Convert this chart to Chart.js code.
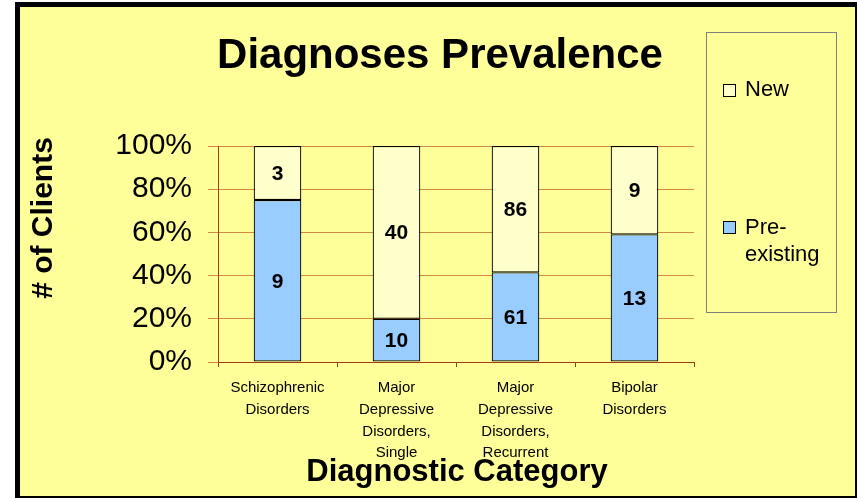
<!DOCTYPE html>
<html>
<head>
<meta charset="utf-8">
<script src="https://cdn.jsdelivr.net/npm/chart.js@4"></script>
<style>
  html, body { margin: 0; padding: 0; background: #fff; }
  canvas { display: block; }
</style>
</head>
<body>
<canvas id="chart" width="857" height="498"></canvas>
<script>
// data
const categories = [
  ['Schizophrenic', 'Disorders'],
  ['Major', 'Depressive', 'Disorders,', 'Single'],
  ['Major', 'Depressive', 'Disorders,', 'Recurrent'],
  ['Bipolar', 'Disorders']
];
const preExisting = [9, 10, 61, 13];
const newClients = [3, 40, 86, 9];
const yTicks = ['0%', '20%', '40%', '60%', '80%', '100%'];
const seriesNames = ['Pre-existing', 'New'];

const FONT = 'Arial, "Liberation Sans", sans-serif';
const BG = '#FFFF99';
const BLUE = '#99CCFF';
const PALE = '#FFFFCC';
const GRID = '#D08A44';
const AXIS = '#A03C14';

// 100% stacked: turn counts into shares
const totals = preExisting.map((v, i) => v + newClients[i]);
const prePct = preExisting.map((v, i) => v / totals[i] * 100);
const newPct = newClients.map((v, i) => v / totals[i] * 100);
const counts = [preExisting, newClients];

Chart.defaults.font.family = FONT;

const framePlugin = {
  id: 'frame',
  beforeDraw(chart) {
    const ctx = chart.ctx;
    ctx.save();
    ctx.fillStyle = '#fff';
    ctx.fillRect(0, 0, chart.width, chart.height);
    ctx.fillStyle = '#000';
    ctx.fillRect(15, 2, chart.width - 15, chart.height - 2);
    ctx.fillStyle = BG;
    ctx.fillRect(20, 7, 835, 489);
    ctx.restore();
  }
};

const labelPlugin = {
  id: 'counts',
  afterDatasetsDraw(chart) {
    const ctx = chart.ctx;
    ctx.save();
    ctx.font = 'bold 21px ' + FONT;
    ctx.fillStyle = '#000';
    ctx.textAlign = 'center';
    ctx.textBaseline = 'middle';
    chart.data.datasets.forEach((ds, di) => {
      chart.getDatasetMeta(di).data.forEach((bar, i) => {
        ctx.fillText(String(counts[di][i]), bar.x, (bar.y + bar.base) / 2 + 1);
      });
    });
    ctx.restore();
  }
};

const textPlugin = {
  id: 'texts',
  afterDraw(chart) {
    const ctx = chart.ctx;
    ctx.save();
    ctx.fillStyle = '#000';
    ctx.textAlign = 'center';

    // main title
    ctx.font = 'bold 42px ' + FONT;
    ctx.textBaseline = 'alphabetic';
    ctx.fillText('Diagnoses Prevalence', 440, 68);

    // x title
    ctx.font = 'bold 31px ' + FONT;
    ctx.fillText('Diagnostic Category', 457, 481);

    // y title
    ctx.save();
    ctx.translate(44, 218);
    ctx.rotate(-Math.PI / 2);
    ctx.font = 'bold 30px ' + FONT;
    ctx.textBaseline = 'middle';
    ctx.fillText('# of Clients', 0, 0);
    ctx.restore();

    // legend box
    ctx.strokeStyle = '#808080';
    ctx.lineWidth = 1;
    ctx.strokeRect(706.5, 32.5, 130, 280);
    ctx.strokeStyle = '#000';
    ctx.fillStyle = PALE;
    ctx.fillRect(723, 84, 13, 13);
    ctx.strokeRect(723.5, 84.5, 12, 12);
    ctx.fillStyle = BLUE;
    ctx.fillRect(723, 221, 13, 13);
    ctx.strokeRect(723.5, 221.5, 12, 12);

    ctx.fillStyle = '#000';
    ctx.font = '22px ' + FONT;
    ctx.textAlign = 'left';
    ctx.textBaseline = 'middle';
    ctx.fillText(seriesNames[1], 745, 90);
    ctx.fillText('Pre-', 745, 228);
    ctx.fillText('existing', 745, 255);
    ctx.restore();
  }
};

new Chart(document.getElementById('chart'), {
  type: 'bar',
  data: {
    labels: categories,
    datasets: [
      {
        label: seriesNames[0],
        data: prePct,
        backgroundColor: BLUE,
        borderColor: '#000',
        borderWidth: 1.2,
        borderSkipped: false
      },
      {
        label: seriesNames[1],
        data: newPct,
        backgroundColor: PALE,
        borderColor: '#000',
        borderWidth: 1.2,
        borderSkipped: false
      }
    ]
  },
  options: {
    responsive: false,
    animation: false,
    devicePixelRatio: 1,
    layout: { padding: { top: 146, right: 163, left: 0, bottom: 0 } },
    datasets: {
      bar: { barPercentage: 0.4, categoryPercentage: 1.0 }
    },
    plugins: {
      legend: { display: false },
      title: { display: false },
      tooltip: { enabled: false }
    },
    scales: {
      x: {
        stacked: true,
        grid: { offset: true, drawOnChartArea: false, tickLength: 5, color: AXIS },
        border: { color: AXIS, width: 1 },
        ticks: {
          color: '#000',
          font: { size: 15, lineHeight: 1.45 },
          padding: 10,
          maxRotation: 0,
          autoSkip: false
        },
        afterFit(scale) { scale.height = 136; }
      },
      y: {
        stacked: true,
        min: 0,
        max: 100,
        grid: { color: GRID, tickLength: 10 },
        border: { color: AXIS, width: 1 },
        ticks: {
          stepSize: 20,
          color: '#000',
          font: { size: 30 },
          padding: 16,
          callback: (v, i) => yTicks[i]
        },
        afterFit(scale) { scale.width = 218; }
      }
    }
  },
  plugins: [framePlugin, labelPlugin, textPlugin]
});
</script>
</body>
</html>
